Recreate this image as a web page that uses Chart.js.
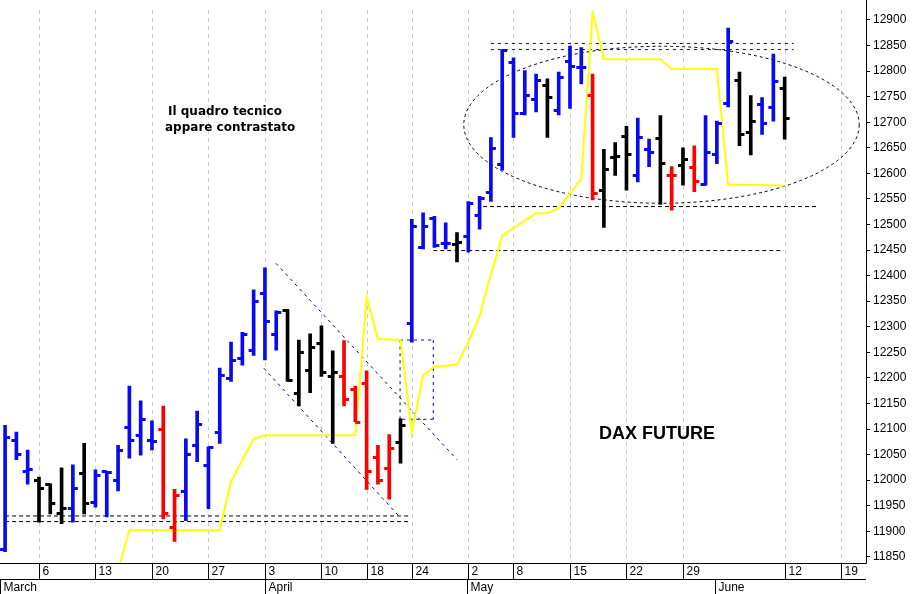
<!DOCTYPE html>
<html><head><meta charset="utf-8">
<script src="https://cdn.jsdelivr.net/npm/chart.js@4.4.0/dist/chart.umd.min.js"></script>
<style>html,body{margin:0;padding:0;background:#fff}#w{width:918px;height:594px}</style>
</head><body><div id="w"><canvas id="c"></canvas></div>
<script>
const opens  =[11865,12078,12017,12000,11993,11935,11945,12014,11958,12017,12000,12103,12088,12078,12100,11908,11978,12068,12030,12094,12200,12238,12254,12366,12286,12332,12171,12216,12268,12203,12203,12178,12190,12046,12024,12075,12308,12455,12512,12464,12462,12477,12519,12564,12619,12817,12718,12746,12773,12724,12820,12807,12753,12567,12631,12673,12596,12647,12670,12596,12617,12613,12580,12638,12737,12782,12681,12735,12729,12766];
const highs  =[12107,12094,12059,12006,11993,12024,12030,12072,12020,12017,12068,12184,12155,12116,12145,11982,12081,12135,12065,12219,12270,12289,12372,12415,12331,12334,12274,12286,12302,12253,12273,12184,12214,12068,12089,12120,12510,12523,12516,12503,12484,12545,12555,12670,12842,12826,12801,12794,12785,12798,12849,12846,12794,12647,12660,12692,12708,12667,12713,12613,12650,12654,12713,12702,12884,12798,12752,12748,12833,12788];
const lows   =[11860,12040,11992,11918,11934,11915,11918,11934,11947,11928,11979,12043,12049,12059,11924,11880,11921,12036,11944,12072,12193,12225,12244,12235,12254,12193,12145,12171,12203,12072,12145,12114,11982,11992,11963,12033,12270,12452,12455,12452,12427,12446,12491,12545,12606,12670,12714,12720,12670,12714,12727,12775,12548,12494,12596,12567,12583,12613,12539,12528,12577,12564,12577,12619,12730,12654,12636,12676,12702,12667];
const closes =[12085,12052,12022,11985,11955,11945,11985,11955,12010,12015,12058,12078,12120,12076,11935,11970,12052,12110,12065,12206,12235,12286,12350,12311,12329,12195,12250,12260,12212,12212,12158,12114,12018,12001,12062,12107,12497,12497,12460,12464,12465,12542,12551,12650,12841,12718,12753,12782,12750,12788,12810,12808,12561,12609,12633,12638,12671,12641,12620,12596,12628,12585,12641,12699,12858,12676,12702,12699,12780,12708];
const colorCodes="BBBKKKBKBBBBBBRRBBBBBBBBBKKKKKRRRRRKBBBBKBBBBBBBKBBBRKKKBBKRKRBBBKKBBK";
const yellowX=[10.2,11,19,20,22,23,31,32,33,35,36,37,38,40,41,42,42.5,44,47,48,49,51,52,53,58,59,63,64,69];
const yellowY=[11839,11902,11902,11998,12081,12088,12088,12357,12276,12274,12094,12205,12222,12226,12270,12320,12363,12478,12522,12522,12532,12589,12915,12823,12823,12804,12804,12578,12576];
const dayTickIdx=[3,8,13,18,23,28,32,36,41,45,50,55,60,69,74];
const dayTickLbl=["6","13","20","27","3","10","18","24","2","8","15","22","29","12","19"];
const monthIdx=[-0.45,23,40.9,62.8];
const monthLbl=["March","April","May","June"];

const cmap={B:'#0a0af0',R:'#ff0000',K:'#000000'};
const cols=[...colorCodes].map(c=>cmap[c]);
const barData=highs.map((h,i)=>({x:i,y:[lows[i],h]}));
const yData=yellowX.map((x,i)=>({x,y:yellowY[i]}));

const deco={id:'deco',
 beforeDatasetsDraw(ch){const {ctx,chartArea:a,scales:{x,y}}=ch;
  ctx.save();
  ctx.strokeStyle='#c8c8e0';ctx.lineWidth=1;ctx.setLineDash([4,4]);
  dayTickIdx.forEach(d=>{const px=Math.round(x.getPixelForValue(d))+0.5;ctx.beginPath();ctx.moveTo(px,a.top);ctx.lineTo(px,a.bottom);ctx.stroke();});
  ctx.strokeStyle='#000';ctx.setLineDash([3,3]);
  const cx=x.getPixelForValue(58.1),cy=y.getPixelForValue(12695);
  const rx=x.getPixelForValue(58.1+17.5)-cx, ry=y.getPixelForValue(12695-153.5)-cy;
  ctx.beginPath();ctx.ellipse(cx,cy,rx,ry,0,0,Math.PI*2);ctx.stroke();
  const L=(x1,v1,x2,v2,c)=>{ctx.strokeStyle=c;ctx.beginPath();ctx.moveTo(x.getPixelForValue(x1),y.getPixelForValue(v1));ctx.lineTo(x.getPixelForValue(x2),y.getPixelForValue(v2));ctx.stroke();};
  ctx.setLineDash([4,3]);
  L(0,11930,35.9,11930,'#000');L(0,11919,35.9,11919,'#000');
  L(42.3,12535,71.9,12535,'#000');L(37.9,12449,68.9,12449,'#000');
  ctx.setLineDash([3,4]);
  L(43,12854,69.8,12854,'#0000c0');L(43,12842,69.8,12842,'#0000c0');
  L(23.98,12424,40,12040,'#0000c0');L(22.9,12219,34.8,11931,'#0000c0');
  L(34.96,12274,37.9,12274,'#0000c0');L(37.9,12274,37.9,12119,'#0000c0');L(37.9,12119,34.96,12119,'#0000c0');L(34.96,12119,34.96,12274,'#0000c0');
  ctx.restore();},
 afterDatasetsDraw(ch){const {ctx,chartArea:a,scales:{x,y}}=ch;
  ctx.save();ctx.lineWidth=3;
  for(let i=0;i<opens.length;i++){const px=x.getPixelForValue(i);ctx.strokeStyle=cols[i];
   let py=Math.round(y.getPixelForValue(opens[i]))+0.5;ctx.beginPath();ctx.moveTo(px-5,py);ctx.lineTo(px,py);ctx.stroke();
   py=Math.round(y.getPixelForValue(closes[i]))+0.5;ctx.beginPath();ctx.moveTo(px,py);ctx.lineTo(px+5,py);ctx.stroke();}
  ctx.restore();
  ctx.save();ctx.strokeStyle='#000';ctx.lineWidth=1;
  ctx.beginPath();ctx.moveTo(a.right+0.5,0);ctx.lineTo(a.right+0.5,a.bottom+0.5);ctx.lineTo(0,a.bottom+0.5);ctx.moveTo(0,579.5);ctx.lineTo(a.right,579.5);ctx.stroke();
  ctx.fillStyle='#000';ctx.font='12px "Liberation Sans", Arial';ctx.textBaseline='middle';
  dayTickIdx.forEach((d,i)=>{const px=Math.round(x.getPixelForValue(d))+0.5;ctx.beginPath();ctx.moveTo(px,a.bottom);ctx.lineTo(px,579);ctx.stroke();ctx.fillText(dayTickLbl[i],px+3,572);});
  monthIdx.forEach((d,i)=>{const px=Math.max(0.5,Math.round(x.getPixelForValue(d))+0.5);ctx.beginPath();ctx.moveTo(px,579);ctx.lineTo(px,594);ctx.stroke();ctx.fillText(monthLbl[i],px+3,588);});
  ctx.font='bold 12px "DejaVu Sans", Verdana, sans-serif';ctx.fillText('Il quadro tecnico',168,112);ctx.fillText('appare contrastato',165,128);
  ctx.font='bold 18px "Liberation Sans", Arial';ctx.fillText('DAX FUTURE',599,434);
  ctx.restore();}
};

new Chart(document.getElementById('c'),{
 data:{datasets:[
  {type:'line',data:yData,borderColor:'#ffff00',borderWidth:2,pointRadius:0,tension:0,order:2},
  {type:'bar',data:barData,backgroundColor:cols,barThickness:3,order:1}
 ]},
 options:{responsive:true,maintainAspectRatio:false,animation:false,
  layout:{padding:{top:-10}},
  plugins:{legend:{display:false},tooltip:{enabled:false}},
  scales:{
   x:{type:'linear',min:-0.45,max:76.2,offset:false,
      afterBuildTicks(s){s.ticks=dayTickIdx.map(v=>({value:v}));},
      afterFit(s){s.height=31;},
      ticks:{display:false},border:{display:false},
      grid:{display:false}},
   y:{position:'right',min:11838,max:12919,
      afterBuildTicks(s){const t=[];for(let v=11850;v<=12900;v+=50)t.push({value:v});s.ticks=t;},
      afterFit(s){s.width=52;},
      border:{display:false},
      ticks:{color:'#000',font:{size:12,family:'"Liberation Sans", Arial'},padding:3,callback:v=>String(v)},
      grid:{drawOnChartArea:false,tickLength:4,color:'#000'}}
  }},
 plugins:[deco]
});
</script></body></html>
